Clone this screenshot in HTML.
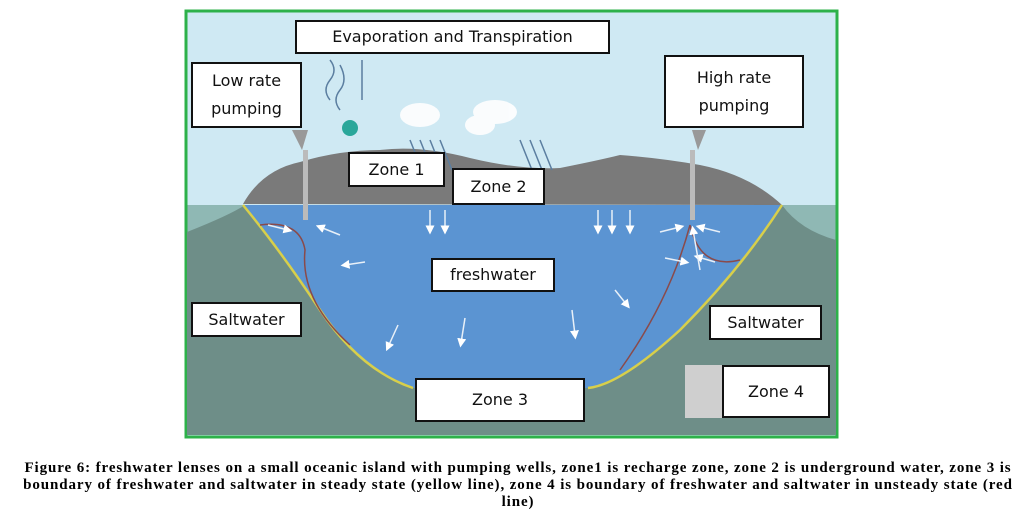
<!DOCTYPE html>
<html><head><style>
body{margin:0;width:1036px;height:521px;background:#fff;position:relative;overflow:hidden}
.b{position:absolute;background:#fff;border:2px solid #111;box-sizing:border-box;font-family:"DejaVu Sans","Liberation Sans",sans-serif;font-size:16px;color:#111;display:flex;align-items:center;justify-content:center;text-align:center;line-height:28px}
.cap{position:absolute;left:0;width:1036px;top:460px;text-align:center;font:bold 15px/17px "Liberation Serif",serif;letter-spacing:0.9px;color:#000;white-space:nowrap}
</style></head><body>
<svg width="1036" height="521" style="position:absolute;left:0;top:0">
<defs><marker id="a" markerWidth="6" markerHeight="6" refX="3" refY="3" orient="auto"><path d="M0 0L6 3L0 6Z" fill="#fff"/></marker></defs>
<rect x="186" y="11" width="651" height="426" fill="#cfe9f3" stroke="#2db14a" stroke-width="3"/>
<rect x="187.5" y="205" width="648" height="230" fill="#8fb8b4"/>
<path d="M187 232 Q230 215 245 205 L782 205 Q800 230 836 240 L836 435 L187 435Z" fill="#6e8e88"/>
<path d="M243 204 Q262 170 300 162 Q340 150 380 150 Q420 145 470 158 Q520 170 560 168 Q600 160 620 155 Q660 158 700 165 Q750 175 782 205Z" fill="#7a7a7a"/>
<path d="M243 205 L782 205 Q740 270 680 330 Q620 385 588 388 L413 388 Q360 370 320 310 Q280 250 243 205Z" fill="#5b94d2"/>
<path d="M243 205 Q280 250 320 310 Q360 370 413 388" fill="none" stroke="#d8cf4a" stroke-width="2.5"/>
<path d="M782 205 Q740 270 680 330 Q620 385 588 388" fill="none" stroke="#d8cf4a" stroke-width="2.5"/>
<path d="M260 225 Q300 220 305 250 Q300 300 350 345" fill="none" stroke="#8a4a4a" stroke-width="1.5"/>
<path d="M690 225 Q700 270 740 260 M690 225 Q670 300 620 370" fill="none" stroke="#8a4a4a" stroke-width="1.5"/>
<g stroke="#e8f0f8" stroke-width="1.5" fill="none" marker-end="url(#a)">
<path d="M268 225l20 5"/><path d="M340 235l-20-8"/><path d="M365 262l-20 3"/><path d="M430 210l0 20"/><path d="M445 210l0 20"/>
<path d="M598 210l0 20"/><path d="M612 210l0 20"/><path d="M630 210l0 20"/><path d="M660 232l20-5"/><path d="M720 232l-20-5"/>
<path d="M715 262l-17-5"/><path d="M700 270l-7-40"/><path d="M665 258l20 4"/><path d="M398 325l-10 22"/><path d="M465 318l-4 25"/><path d="M572 310l3 25"/><path d="M615 290l12 15"/></g>
<rect x="303" y="150" width="5" height="70" fill="#bbb"/>
<rect x="690" y="150" width="5" height="70" fill="#bbb"/>
<path d="M292 130 L308 130 L302 150 Z M692 130 L706 130 L698 150 Z" fill="#999"/>
<circle cx="350" cy="128" r="8" fill="#2aa79a"/>
<g fill="#fff" opacity=".9"><ellipse cx="420" cy="115" rx="20" ry="12"/><ellipse cx="495" cy="112" rx="22" ry="12"/><ellipse cx="480" cy="125" rx="15" ry="10"/></g>
<g stroke="#5b7ea0" stroke-width="1.5" fill="none"><path d="M410 140l12 30M420 140l12 30M430 140l12 30M440 140l12 30M520 140l12 30M530 140l12 30M540 140l12 30"/><path d="M362 100v-40M330 100q-8-10 0-20q8-10 0-20M340 110q-8-10 0-20q8-10 0-25"/></g>
<rect x="685" y="365" width="37" height="53" fill="#cfcfcf"/>
</svg>
<div class="b" style="left:295px;top:20px;width:315px;height:34px">Evaporation and Transpiration</div>
<div class="b" style="left:191px;top:62px;width:111px;height:66px">Low rate<br>pumping</div>
<div class="b" style="left:664px;top:55px;width:140px;height:73px">High rate<br>pumping</div>
<div class="b" style="left:348px;top:152px;width:97px;height:35px">Zone 1</div>
<div class="b" style="left:452px;top:168px;width:93px;height:37px">Zone 2</div>
<div class="b" style="left:431px;top:258px;width:124px;height:34px">freshwater</div>
<div class="b" style="left:191px;top:302px;width:111px;height:35px">Saltwater</div>
<div class="b" style="left:709px;top:305px;width:113px;height:35px">Saltwater</div>
<div class="b" style="left:415px;top:378px;width:170px;height:44px">Zone 3</div>
<div class="b" style="left:722px;top:365px;width:108px;height:53px">Zone 4</div>
<div class="cap">Figure 6: freshwater lenses on a small oceanic island with pumping wells, zone1 is recharge zone, zone 2 is underground water, zone 3 is<br>boundary of freshwater and saltwater in steady state (yellow line), zone 4 is boundary of freshwater and saltwater in unsteady state (red<br>line)</div>
</body></html>
